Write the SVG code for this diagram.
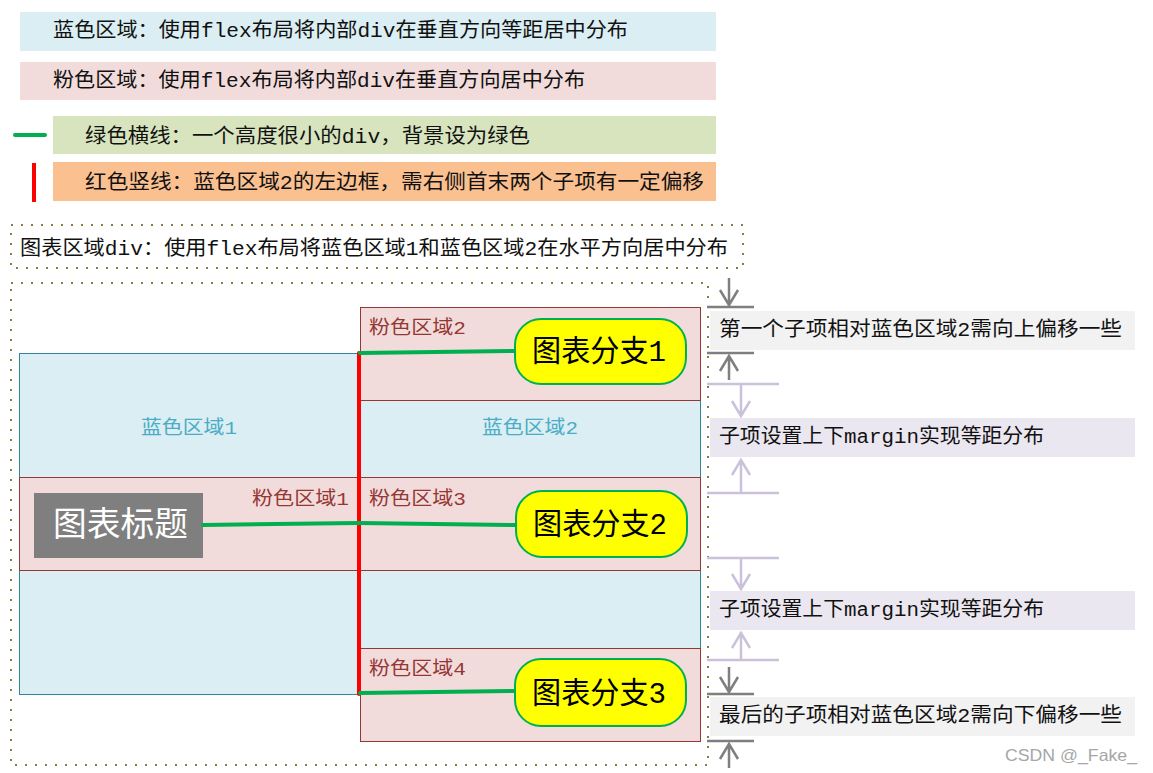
<svg xmlns="http://www.w3.org/2000/svg" width="1153" height="773" viewBox="0 0 1153 773">
<style>
  text { font-family: "Liberation Mono", "Noto Sans CJK SC", monospace; }
  .t20 { font-size: 20px; fill: #111; }
  .lbl { font-size: 19px; }
  .blbl { fill: #4bacc6; }
  .plbl { fill: #953735; }
  .blue { fill: #daeef3; stroke: #31859c; stroke-width: 1; }
  .pink { fill: #f2dcdb; stroke: #953735; stroke-width: 1; }
  .dotted { fill: none; stroke: #8c7b40; stroke-width: 2; stroke-dasharray: 2 8; }
  .gline { stroke: #00b050; stroke-width: 4; fill: none; stroke-linecap: round; }
  .branch { fill: #ffff00; stroke: #00b050; stroke-width: 2; }
  .btxt { font-size: 30px; fill: #000; }
  .garr { stroke: #7f7f7f; stroke-width: 2.5; fill: none; }
  .larr { stroke: #ccc1da; stroke-width: 2.5; fill: none; }
</style>

<g id="legend">
  <g id="legend-blue">
    <rect x="20" y="12" width="696" height="39" fill="#daeef3"/>
    <text class="t20" x="53" y="36.5" textLength="575" lengthAdjust="spacingAndGlyphs">蓝色区域：使用flex布局将内部div在垂直方向等距居中分布</text>
  </g>
  <g id="legend-pink">
    <rect x="20" y="62" width="696" height="38" fill="#f2dcdb"/>
    <text class="t20" x="53" y="86.5" textLength="532" lengthAdjust="spacingAndGlyphs">粉色区域：使用flex布局将内部div在垂直方向居中分布</text>
  </g>
  <g id="legend-green">
    <line class="gline" x1="15" y1="135" x2="45" y2="135"/>
    <rect x="53" y="116" width="663" height="38" fill="#d7e4bd"/>
    <text class="t20" x="85" y="142.5" textLength="445" lengthAdjust="spacingAndGlyphs">绿色横线：一个高度很小的div，背景设为绿色</text>
  </g>
  <g id="legend-red">
    <line x1="34" y1="163" x2="34" y2="202" stroke="#ff0000" stroke-width="4"/>
    <rect x="53" y="162" width="663" height="39" fill="#fac090"/>
    <text class="t20" x="85" y="189" textLength="619" lengthAdjust="spacingAndGlyphs">红色竖线：蓝色区域2的左边框，需右侧首末两个子项有一定偏移</text>
  </g>
</g>

<g id="chart-title-box">
  <rect class="dotted" x="11" y="225" width="732" height="43"/>
  <text class="t20" x="20" y="254.5" textLength="708" lengthAdjust="spacingAndGlyphs">图表区域div：使用flex布局将蓝色区域1和蓝色区域2在水平方向居中分布</text>
</g>

<g id="chart-area">
  <path class="dotted" d="M11,283 H708 V765 H11 Z"/>
</g>

<g id="blue-area-1">
  <rect class="blue" x="19.5" y="353.5" width="340" height="341"/>
  <text class="lbl blbl" x="189" y="433.5" text-anchor="middle" textLength="96" lengthAdjust="spacingAndGlyphs">蓝色区域1</text>
</g>
<g id="pink-area-1">
  <rect class="pink" x="19.5" y="477.5" width="340" height="93"/>
  <text class="lbl plbl" x="252" y="504.5" textLength="97" lengthAdjust="spacingAndGlyphs">粉色区域1</text>
</g>
<g id="chart-title">
  <rect x="34" y="493" width="169" height="65" fill="#7f7f7f"/>
  <text x="53" y="536" font-size="34" fill="#ffffff" textLength="135" lengthAdjust="spacingAndGlyphs">图表标题</text>
</g>

<g id="blue-area-2">
  <rect class="blue" x="360.5" y="353.5" width="340" height="341"/>
  <text class="lbl blbl" x="530" y="433.5" text-anchor="middle" textLength="96" lengthAdjust="spacingAndGlyphs">蓝色区域2</text>
</g>
<g id="pink-area-2">
  <rect class="pink" x="360.5" y="307.5" width="340" height="93"/>
  <text class="lbl plbl" x="369" y="333.5" textLength="97" lengthAdjust="spacingAndGlyphs">粉色区域2</text>
</g>
<g id="pink-area-3">
  <rect class="pink" x="360.5" y="477.5" width="340" height="93"/>
  <text class="lbl plbl" x="369" y="504.5" textLength="97" lengthAdjust="spacingAndGlyphs">粉色区域3</text>
</g>
<g id="pink-area-4">
  <rect class="pink" x="360.5" y="648.5" width="340" height="93"/>
  <text class="lbl plbl" x="369" y="675" textLength="97" lengthAdjust="spacingAndGlyphs">粉色区域4</text>
</g>

<g id="connectors">
  <line x1="359" y1="353" x2="359" y2="694" stroke="#ff0000" stroke-width="4" stroke-linecap="round"/>
  <path class="gline" d="M203,525 L359,523"/>
  <path class="gline" d="M359,523 L516,525"/>
  <path class="gline" d="M360,353 L515,351"/>
  <path class="gline" d="M360,693 L515,691"/>
</g>

<g id="branch-1">
  <rect class="branch" x="515" y="319" width="171" height="65" rx="26"/>
  <text class="btxt" x="532" y="361" textLength="134" lengthAdjust="spacingAndGlyphs">图表分支1</text>
</g>
<g id="branch-2">
  <rect class="branch" x="516" y="491" width="171" height="66" rx="26"/>
  <text class="btxt" x="533" y="534" textLength="134" lengthAdjust="spacingAndGlyphs">图表分支2</text>
</g>
<g id="branch-3">
  <rect class="branch" x="515" y="659" width="171" height="67" rx="26"/>
  <text class="btxt" x="532" y="703" textLength="134" lengthAdjust="spacingAndGlyphs">图表分支3</text>
</g>

<g id="annotation-top">
  <path class="garr" d="M729,278 V305 M720,290 L729,305 L738,290 M707,307 H754"/>
  <rect x="710" y="311" width="425" height="39" fill="#f2f2f2"/>
  <text class="t20" x="719" y="336" textLength="403" lengthAdjust="spacingAndGlyphs">第一个子项相对蓝色区域2需向上偏移一些</text>
  <path class="garr" d="M707,353 H754 M729,356 V380 M720,371 L729,356 L738,371"/>
</g>
<g id="annotation-margin-1">
  <path class="larr" d="M707,384 H779 M741,384 V416 M732,401 L741,416 L750,401"/>
  <rect x="710" y="418" width="425" height="39" fill="#ebe7f0"/>
  <text class="t20" x="719" y="443" textLength="325" lengthAdjust="spacingAndGlyphs">子项设置上下margin实现等距分布</text>
  <path class="larr" d="M741,460 V493 M732,475 L741,460 L750,475 M707,493 H779"/>
</g>
<g id="annotation-margin-2">
  <path class="larr" d="M707,558 H779 M741,558 V589 M732,574 L741,589 L750,574"/>
  <rect x="710" y="591" width="425" height="39" fill="#ebe7f0"/>
  <text class="t20" x="719" y="616" textLength="325" lengthAdjust="spacingAndGlyphs">子项设置上下margin实现等距分布</text>
  <path class="larr" d="M741,633 V660 M732,648 L741,633 L750,648 M707,660 H779"/>
</g>
<g id="annotation-bottom">
  <path class="garr" d="M729,667 V692 M720,677 L729,692 L738,677 M707,694 H754"/>
  <rect x="710" y="697" width="425" height="39" fill="#f2f2f2"/>
  <text class="t20" x="719" y="722" textLength="403" lengthAdjust="spacingAndGlyphs">最后的子项相对蓝色区域2需向下偏移一些</text>
  <path class="garr" d="M707,741 H754 M729,744 V768 M720,759 L729,744 L738,759"/>
</g>

<text x="1005" y="761" font-family="Liberation Sans, Arial, sans-serif" style="font-family: 'Liberation Sans', sans-serif" font-size="17" fill="#a6a6a6" textLength="132" lengthAdjust="spacingAndGlyphs">CSDN @_Fake_</text>
</svg>
